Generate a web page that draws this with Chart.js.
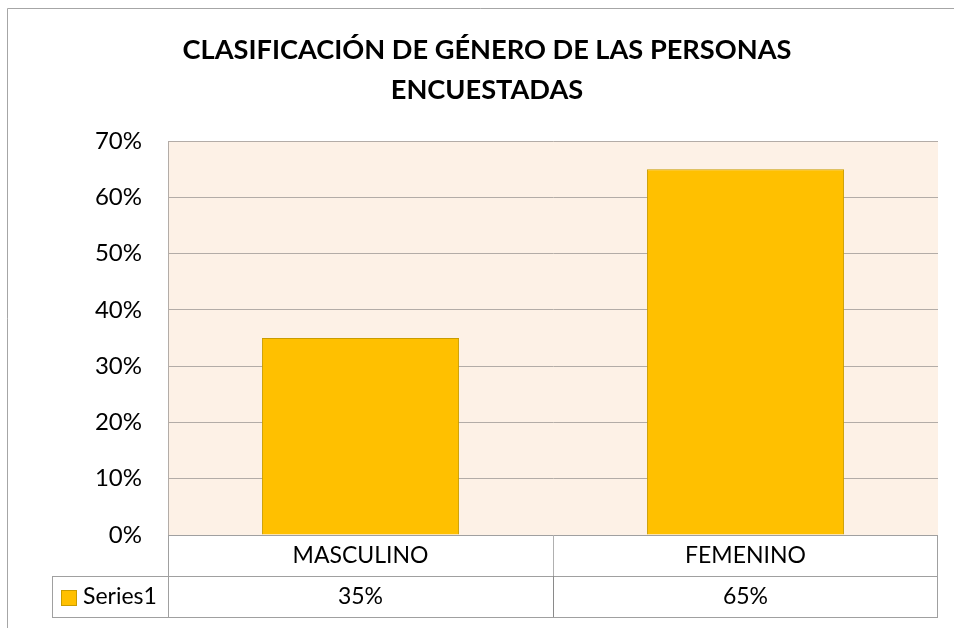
<!DOCTYPE html>
<html>
<head>
<meta charset="utf-8">
<script src="https://cdn.jsdelivr.net/npm/chart.js@4/dist/chart.umd.min.js"></script>
<style>
  html, body { margin: 0; padding: 0; background: #fff; }
  #wrap { width: 954px; height: 628px; }
</style>
</head>
<body>
<div id="wrap"><canvas id="chart" width="954" height="628"></canvas></div>
<script>
// datos del grafico
var categorias = ['MASCULINO', 'FEMENINO'];
var valores = [35, 65];
var nombreSerie = 'Series1';
var titulo = ['CLASIFICACIÓN DE GÉNERO DE LAS PERSONAS', 'ENCUESTADAS'];
var yMax = 70;
var yPaso = 10;

var FUENTE = 'Lato, "Open Sans", sans-serif';
var colorBarra = '#ffc000';
var bordeBarra = '#c99c00';

// marco, titulo y tabla de datos (estilo Excel)
var excelPlugin = {
    id: 'excelExtras',
    beforeDraw: function (chart) {
        var ctx = chart.ctx;
        var a = chart.chartArea;
        ctx.save();
        ctx.fillStyle = '#fff';
        ctx.fillRect(0, 0, chart.width, chart.height);
        // marco exterior
        ctx.strokeStyle = '#a6a6a6';
        ctx.lineWidth = 1;
        ctx.beginPath();
        ctx.moveTo(7.5, chart.height);
        ctx.lineTo(7.5, 8.5);
        ctx.lineTo(chart.width, 8.5);
        ctx.stroke();
        // fondo del area de trazado
        ctx.fillStyle = '#fdf1e6';
        ctx.fillRect(a.left, a.top, a.right - a.left, a.bottom - a.top);
        ctx.restore();
    },
    afterDraw: function (chart) {
        var ctx = chart.ctx;
        var a = chart.chartArea;
        var xs = chart.scales.x;
        ctx.save();
        // titulo
        ctx.fillStyle = '#000';
        ctx.font = 'bold 27.2px ' + FUENTE;
        ctx.textAlign = 'center';
        ctx.textBaseline = 'middle';
        ctx.fillText(titulo[0], 487, 50);
        ctx.fillText(titulo[1], 487, 90);

        // tabla de datos
        var top = a.bottom;
        var fila = 41;
        var izqLeyenda = 52;
        var medio = (xs.getPixelForTick(0) + xs.getPixelForTick(1)) / 2;
        ctx.lineWidth = 1;
        ctx.strokeStyle = '#a0a0a0';
        ctx.beginPath();
        ctx.moveTo(a.left, top + 0.5); ctx.lineTo(a.right, top + 0.5);
        ctx.moveTo(izqLeyenda, top + fila + 0.5); ctx.lineTo(a.right, top + fila + 0.5);
        ctx.moveTo(izqLeyenda, top + 2 * fila + 0.5); ctx.lineTo(a.right, top + 2 * fila + 0.5);
        ctx.moveTo(a.left + 0.5, top); ctx.lineTo(a.left + 0.5, top + 2 * fila);
        ctx.moveTo(a.right - 0.5, top); ctx.lineTo(a.right - 0.5, top + 2 * fila);
        ctx.moveTo(izqLeyenda + 0.5, top + fila); ctx.lineTo(izqLeyenda + 0.5, top + 2 * fila);
        ctx.stroke();
        ctx.strokeStyle = '#b0b0b0';
        ctx.beginPath();
        ctx.moveTo(Math.round(medio) + 0.5, top); ctx.lineTo(Math.round(medio) + 0.5, top + fila);
        ctx.stroke();
        ctx.strokeStyle = '#8a8a8a';
        ctx.beginPath();
        ctx.moveTo(Math.round(medio) + 0.5, top + fila); ctx.lineTo(Math.round(medio) + 0.5, top + 2 * fila);
        ctx.stroke();

        ctx.font = '23px ' + FUENTE;
        ctx.fillStyle = '#000';
        ctx.textAlign = 'center';
        categorias.forEach(function (c, i) {
            var x = xs.getPixelForTick(i);
            ctx.fillText(c, x, top + fila / 2);
            ctx.fillText(valores[i] + '%', x, top + fila * 1.5);
        });
        // clave de leyenda
        ctx.fillStyle = colorBarra;
        ctx.fillRect(61, top + fila + 14, 15, 15);
        ctx.strokeStyle = bordeBarra;
        ctx.strokeRect(61.5, top + fila + 14.5, 15, 15);
        ctx.fillStyle = '#000';
        ctx.textAlign = 'left';
        ctx.fillText(nombreSerie, 83, top + fila * 1.5);
        ctx.restore();
    }
};

new Chart(document.getElementById('chart'), {
    type: 'bar',
    data: {
        labels: categorias,
        datasets: [{
            label: nombreSerie,
            data: valores,
            backgroundColor: colorBarra,
            borderColor: bordeBarra,
            borderWidth: 1,
            barPercentage: 0.512,
            categoryPercentage: 1
        }]
    },
    options: {
        responsive: false,
        animation: false,
        layout: { padding: { top: 141, left: 0, right: 16, bottom: 93 } },
        plugins: {
            legend: { display: false },
            title: { display: false },
            tooltip: { enabled: false }
        },
        scales: {
            x: { display: false },
            y: {
                min: 0,
                max: yMax,
                afterFit: function (s) { s.width = 168; },
                ticks: {
                    stepSize: yPaso,
                    padding: 26,
                    color: '#000',
                    font: { family: FUENTE, size: 24 },
                    callback: function (v) { return v + '%'; }
                },
                grid: { color: '#b3aca7', drawTicks: false },
                border: { display: true, color: '#b3aca7' }
            }
        }
    },
    plugins: [excelPlugin]
});
</script>
</body>
</html>
